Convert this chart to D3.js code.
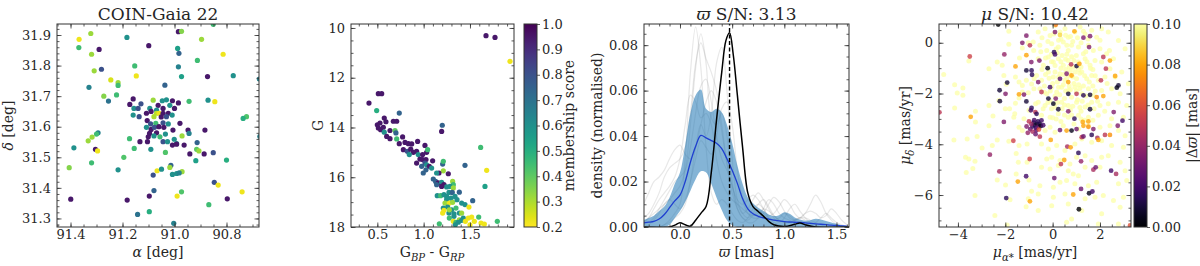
<!DOCTYPE html>
<html>
<head>
<meta charset="utf-8">
<script src="https://cdn.jsdelivr.net/npm/d3@7"></script>
<style>
body { margin: 0; background: #fff; }
svg text { font-family: "DejaVu Serif", serif; fill: #262626; }
</style>
</head>
<body>
<script>
// ---------- data ----------
// panel 1: ra [deg], dec [deg], membership score
const p1Stars = [
  [91.367,31.886,0.22],[91.322,31.905,0.32],[91.368,31.859,0.45],[91.290,31.853,0.95],[91.319,31.837,0.32],
  [91.309,31.783,0.32],[91.281,31.788,0.8],[91.183,31.892,0.6],[91.099,31.865,0.95],[90.985,31.911,0.95],
  [90.973,31.912,0.35],[90.988,31.856,0.55],[90.983,31.840,0.75],[90.896,31.886,0.32],[90.813,31.837,0.22],
  [90.851,31.935,0.45],[90.912,31.817,0.45],[91.153,31.799,0.45],[90.985,31.796,0.65],[91.147,31.766,0.22],
  [90.973,31.764,0.55],[90.873,31.764,0.95],[90.774,31.767,0.6],[90.674,31.756,0.65],[91.245,31.753,0.25],
  [91.217,31.744,0.32],[91.217,31.735,0.45],[91.329,31.729,0.65],[91.037,31.736,0.75],[91.272,31.700,0.35],
  [91.223,31.704,0.45],[91.254,31.684,0.7],[91.159,31.691,0.95],[91.172,31.673,0.95],[91.129,31.675,0.8],
  [91.082,31.687,0.32],[91.047,31.685,0.6],[91.031,31.688,0.6],[91.008,31.685,0.95],[90.985,31.678,0.95],
  [90.944,31.683,0.45],[90.871,31.687,0.6],[90.845,31.682,0.22],[91.063,31.670,0.95],[91.018,31.670,0.6],
  [91.095,31.660,0.6],[91.069,31.654,0.6],[91.044,31.660,0.95],[91.156,31.660,0.6],[91.140,31.660,0.8],
  [91.159,31.638,0.6],[91.136,31.633,0.8],[91.108,31.644,0.95],[91.090,31.650,0.95],[91.069,31.644,0.28],
  [91.079,31.633,0.3],[91.059,31.644,0.22],[91.044,31.644,0.95],[91.024,31.644,0.95],[91.031,31.633,0.8],
  [91.009,31.638,0.6],[91.051,31.632,0.95],[91.105,31.620,0.95],[91.092,31.609,0.8],[91.072,31.611,0.45],
  [91.044,31.613,0.8],[91.024,31.609,0.6],[90.979,31.611,0.95],[91.108,31.598,0.6],[91.090,31.591,0.95],
  [91.077,31.598,0.8],[91.060,31.600,0.95],[91.041,31.598,0.95],[91.006,31.589,0.95],[90.948,31.589,0.95],
  [90.883,31.589,0.95],[90.672,31.568,0.65],[91.294,31.580,0.65],[91.300,31.576,0.45],[91.096,31.578,0.95],
  [91.069,31.580,0.95],[91.101,31.567,0.95],[91.079,31.570,0.6],[91.056,31.567,0.45],[91.035,31.576,0.6],
  [90.944,31.578,0.65],[90.971,31.570,0.32],[91.173,31.561,0.45],[91.317,31.566,0.32],[91.332,31.554,0.32],
  [91.133,31.551,0.95],[91.104,31.551,0.95],[91.044,31.551,0.8],[91.027,31.551,0.6],[91.001,31.559,0.6],
  [90.992,31.545,0.6],[91.008,31.540,0.95],[90.992,31.543,0.95],[90.963,31.540,0.95],[90.913,31.548,0.75],
  [90.851,31.515,0.8],[91.387,31.531,0.6],[91.304,31.526,0.95],[91.296,31.521,0.22],[91.155,31.529,0.45],
  [91.091,31.526,0.6],[91.035,31.516,0.42],[90.915,31.526,0.4],[90.906,31.521,0.32],[90.941,31.511,0.95],
  [90.886,31.511,0.95],[90.918,31.489,0.55],[90.800,31.491,0.5],[91.195,31.500,0.42],[91.319,31.482,0.45],
  [91.405,31.466,0.35],[91.217,31.459,0.6],[91.067,31.456,0.22],[91.050,31.461,0.6],[91.014,31.474,0.75],
  [91.018,31.467,0.32],[90.971,31.453,0.32],[91.008,31.444,0.6],[90.992,31.447,0.6],[90.982,31.449,0.65],
  [91.082,31.442,0.8],[90.847,31.418,0.8],[90.832,31.409,0.22],[91.079,31.391,0.75],[90.973,31.387,0.42],
  [90.740,31.387,0.22],[91.097,31.373,0.95],[90.990,31.373,0.22],[91.399,31.363,0.95],[91.182,31.360,0.95],
  [90.797,31.364,0.95],[90.868,31.345,0.45],[91.142,31.313,0.7],[91.097,31.322,0.5],[91.003,31.284,0.65],
  [90.723,31.633,0.42],[90.736,31.627,0.5],[91.000,31.660,0.95]
];

// panel 2: BP-RP, G, membership score
const p2Stars = [
  [1.673,10.31,0.95],[1.770,10.38,0.95],[1.932,11.34,0.22],[0.410,13.02,0.95],[0.511,12.64,0.95],
  [0.547,12.64,0.95],[0.493,13.32,0.5],[0.737,13.42,0.75],[1.194,14.16,0.95],[1.201,13.91,0.75],
  [0.575,13.62,0.95],[0.593,13.77,0.95],[0.673,13.75,0.95],[0.709,13.75,0.95],[0.500,13.89,0.95],
  [0.529,13.82,0.95],[0.511,14.02,0.95],[0.536,14.09,0.95],[0.565,13.99,0.95],[0.575,14.19,0.6],
  [0.637,14.12,0.95],[0.691,14.12,0.4],[0.701,14.22,0.75],[0.601,14.36,0.95],[0.637,14.45,0.95],
  [0.709,14.46,0.45],[0.737,14.65,0.95],[0.799,14.60,0.95],[0.835,14.65,0.95],[0.871,14.66,0.95],
  [0.935,14.56,0.95],[1.014,14.72,0.95],[0.781,14.89,0.95],[0.824,14.96,0.8],[0.860,14.87,0.95],
  [0.889,15.00,0.95],[0.924,14.96,0.95],[0.845,15.09,0.6],[0.942,15.09,0.6],[0.989,15.09,0.95],
  [1.032,15.00,0.95],[1.043,14.89,0.45],[0.960,15.27,0.95],[0.989,15.29,0.95],[1.025,15.29,0.95],
  [1.097,15.34,0.95],[0.924,15.43,0.95],[1.014,15.43,0.8],[0.978,15.56,0.75],[1.032,15.50,0.6],
  [1.061,15.56,0.95],[1.086,15.63,0.6],[0.996,15.83,0.75],[1.025,15.70,0.75],[1.205,15.47,0.75],
  [1.212,15.36,0.45],[1.446,15.52,0.75],[1.212,15.74,0.32],[1.165,15.83,0.95],[1.266,15.86,0.95],
  [1.140,15.83,0.6],[1.104,16.07,0.75],[1.129,16.17,0.75],[1.158,16.23,0.95],[1.194,16.21,0.6],
  [1.219,16.30,0.95],[1.313,16.17,0.32],[1.320,16.30,0.45],[1.248,16.39,0.6],[1.284,16.37,0.6],
  [1.320,16.43,0.32],[1.147,16.74,0.6],[1.183,16.74,0.45],[1.219,16.70,0.6],[1.273,16.61,0.6],
  [1.309,16.61,0.75],[1.385,16.60,0.75],[1.248,16.90,0.6],[1.295,16.84,0.6],[1.338,16.77,0.6],
  [1.230,17.04,0.32],[1.277,17.04,0.22],[1.313,17.01,0.32],[1.410,17.04,0.6],[1.446,17.10,0.6],
  [1.529,16.94,0.75],[1.212,17.24,0.6],[1.259,17.20,0.6],[1.302,17.31,0.6],[1.349,17.24,0.45],
  [1.219,17.33,0.22],[1.205,17.44,0.22],[1.273,17.44,0.6],[1.327,17.47,0.6],[1.385,17.44,0.6],
  [1.410,17.44,0.32],[1.489,17.20,0.22],[1.277,17.64,0.45],[1.327,17.57,0.6],[1.385,17.71,0.32],
  [1.428,17.64,0.6],[1.482,17.64,0.22],[1.518,17.60,0.22],[1.594,17.60,0.45],[1.320,17.77,0.22],
  [1.349,17.81,0.45],[1.410,17.73,0.6],[1.450,17.77,0.22],[1.547,17.77,0.22],[1.619,17.84,0.22],
  [1.655,17.88,0.22],[1.169,17.87,0.45],[1.342,17.91,0.6],[1.500,17.91,0.22],[1.795,17.77,0.45],
  [1.615,14.80,0.45],[1.680,15.72,0.22],[1.662,16.37,0.55],[0.773,14.38,0.95],[1.374,17.81,0.6],
  [1.194,16.37,0.95],[1.140,16.30,0.75],[1.248,16.77,0.6],[1.360,16.90,0.6],[1.277,17.31,0.32]
];

// panel 3: parallax KDEs on a common grid [mas]
const p3Grid = [-0.35,-0.30,-0.25,-0.20,-0.15,-0.10,-0.05,0.00,0.05,0.10,0.15,0.20,0.25,0.30,0.35,0.40,0.45,0.50,0.55,0.60,
                0.65,0.70,0.75,0.80,0.85,0.90,0.95,1.00,1.05,1.10,1.15,1.20,1.25,1.30,1.35,1.40,1.45,1.50,1.55,1.60];
const p3Draws = [
  [0,0,0,0,0.001,0.003,0.006,0.010,0.030,0.068,0.088,0.070,0.035,0.015,0.010,0.012,0.010,0.006,0.003,0.002,0.004,0.008,0.010,0.008,0.004,0.002,0.001,0,0,0,0,0,0,0,0,0,0,0,0,0],
  [0.002,0.004,0.006,0.008,0.010,0.012,0.015,0.018,0.025,0.045,0.070,0.085,0.072,0.048,0.045,0.050,0.040,0.020,0.008,0.004,0.003,0.005,0.007,0.006,0.004,0.003,0.004,0.006,0.005,0.003,0.002,0.001,0,0,0,0,0,0,0,0],
  [0,0,0,0,0.001,0.002,0.004,0.006,0.010,0.020,0.035,0.045,0.040,0.050,0.072,0.079,0.060,0.030,0.012,0.006,0.004,0.006,0.010,0.012,0.009,0.005,0.003,0.002,0.002,0.003,0.004,0.004,0.003,0.002,0.001,0,0,0,0,0],
  [0.004,0.006,0.010,0.015,0.022,0.026,0.028,0.030,0.035,0.050,0.072,0.081,0.074,0.068,0.060,0.045,0.028,0.015,0.008,0.004,0.002,0.002,0.004,0.008,0.012,0.010,0.006,0.004,0.003,0.002,0.002,0.002,0.001,0,0,0,0,0,0,0],
  [0.010,0.015,0.020,0.022,0.025,0.030,0.034,0.036,0.032,0.030,0.035,0.045,0.055,0.060,0.055,0.042,0.028,0.018,0.012,0.010,0.012,0.014,0.012,0.008,0.005,0.006,0.009,0.012,0.010,0.006,0.004,0.006,0.010,0.014,0.011,0.006,0.003,0.001,0,0],
  [0.001,0.002,0.004,0.008,0.012,0.016,0.020,0.022,0.025,0.035,0.050,0.062,0.065,0.055,0.040,0.030,0.025,0.018,0.010,0.006,0.008,0.012,0.015,0.012,0.008,0.004,0.002,0.004,0.008,0.010,0.007,0.004,0.002,0.001,0,0,0,0,0,0],
  [0,0.001,0.003,0.006,0.010,0.012,0.010,0.008,0.012,0.020,0.030,0.038,0.035,0.032,0.040,0.052,0.055,0.045,0.025,0.012,0.006,0.004,0.004,0.006,0.010,0.013,0.011,0.007,0.004,0.003,0.004,0.006,0.007,0.006,0.004,0.005,0.008,0.006,0.003,0.001],
  [0.002,0.004,0.008,0.012,0.015,0.018,0.022,0.030,0.045,0.058,0.055,0.048,0.050,0.045,0.030,0.020,0.015,0.012,0.010,0.008,0.006,0.005,0.006,0.008,0.007,0.005,0.003,0.002,0.002,0.003,0.004,0.003,0.002,0.002,0.004,0.006,0.004,0.002,0.001,0]
];
const p3Median = [0.0018,0.0021,0.0025,0.0035,0.0055,0.0085,0.0115,0.0140,0.0200,0.0285,0.0355,0.0403,0.0392,0.0380,0.0368,0.0345,0.0300,0.0250,0.0192,0.0125,
                  0.0080,0.0058,0.0047,0.0040,0.0035,0.0030,0.0027,0.0024,0.0022,0.0021,0.0020,0.0018,0.0016,0.0014,0.0012,0.0010,0.0008,0.0007,0.0005,0.0004];
const p3Upper = [0.003,0.004,0.005,0.007,0.009,0.013,0.019,0.024,0.036,0.050,0.058,0.0605,0.052,0.0506,0.052,0.0505,0.045,0.037,0.027,0.019,
                 0.013,0.0105,0.0085,0.007,0.0055,0.0048,0.0052,0.0065,0.0058,0.0042,0.0033,0.0028,0.0030,0.0036,0.0033,0.0026,0.0020,0.0014,0.0008,0.0003];
const p3Lower = [0,0,0,0,0,0.001,0.004,0.007,0.011,0.016,0.021,0.0245,0.024,0.019,0.013,0.0075,0.003,0.0008,0,0,
                 0,0,0,0,0,0,0,0,0,0,0,0,0,0,0,0,0,0,0,0];
const p3ClusterX = [-0.35,-0.10,-0.05,0.00,0.05,0.10,0.15,0.20,0.25,0.30,0.35,0.40,0.44,0.475,0.51,0.55,0.60,0.65,0.70,0.75,0.80,0.85,0.90,1.00,1.10,1.15,1.20,1.30,1.62];
const p3ClusterY = [0,0,0.0008,0.0019,0.0010,0.0004,0.0030,0.0060,0.0090,0.024,0.047,0.068,0.082,0.0855,0.076,0.058,0.035,0.015,0.009,0.0068,0.0048,0.0025,0.0010,0.0002,0.0012,0.0018,0.0010,0,0];
const p3Plx = 0.475;

// panel 4: proper motions [mas/yr]; field stars with |dplx| >= 0.1 and the coloured ones
const p4Field = [
  [-1.85,0.45],[-1.85,-0.06],[-1.28,-0.21],[-1.03,0.0],[-0.82,0.03],[-2.34,-0.76],[-2.13,-0.89],[-2.69,-1.02],
  [-3.54,-0.72],[-4.60,-1.25],[-4.14,-1.65],[-4.03,-1.98],[-3.79,-1.78],[-3.79,-2.07],[-4.14,-2.57],[-3.26,-2.70],
  [-2.69,-2.47],[-2.52,-2.89],[-2.27,-2.27],[-2.06,-1.29],[-1.96,-1.63],[-1.57,-1.35],[-1.42,-1.55],[-1.28,-1.68],
  [-1.11,-1.48],[-0.89,-1.62],[-0.78,-1.42],[-1.28,-1.94],[-1.03,-1.97],[-0.79,-1.81],[-1.42,-2.18],[-1.57,-2.38],
  [-1.00,-2.66],[-0.72,-2.40],[-1.82,-2.60],[-1.64,-2.93],[-1.21,-2.99],[-3.26,-3.12],
  [-0.61,0.42],[-0.32,0.55],[-0.11,0.29],[0.10,0.68],[0.31,0.42],[0.52,0.55],[0.66,0.22],[0.94,0.42],
  [1.16,0.62],[1.37,0.35],[1.65,0.49],[1.86,0.22],[2.07,0.55],[2.35,0.42],[2.78,0.09],[3.06,-0.24],
  [-0.54,-0.10],[-0.25,-0.30],[-0.04,-0.04],[0.24,-0.17],[0.45,0.03],[0.66,-0.30],[0.80,-0.10],[1.09,-0.17],
  [1.30,-0.43],[1.51,-0.10],[1.72,-0.30],[2.00,-0.24],[2.28,-0.43],[2.57,-0.63],[-0.61,-0.63],[-0.39,-0.89],
  [-0.18,-0.56],[0.03,-0.76],[0.24,-0.63],[0.45,-0.89],[0.66,-0.70],[0.87,-0.96],[1.09,-0.76],[1.37,-0.63],
  [1.58,-0.89],[1.79,-0.70],[2.07,-0.76],[2.42,-1.02],[2.92,-1.15],[-0.68,-1.29],[-0.47,-1.48],[-0.18,-1.15],
  [0.03,-1.35],[0.31,-1.22],[0.52,-1.48],[0.73,-1.29],[1.01,-1.42],[1.23,-1.15],[1.44,-1.42],[1.65,-1.29],
  [1.93,-1.48],[2.21,-1.35],[2.64,-1.35],[3.20,-1.61],[-0.54,-1.81],[-0.25,-2.01],[-0.04,-1.75],[0.17,-1.94],
  [0.38,-1.75],[0.66,-1.88],[0.94,-1.75],[1.23,-2.01],[1.51,-1.81],[1.72,-2.07],[2.07,-1.88],[2.49,-1.81],
  [2.85,-2.01],[-0.61,-2.34],[-0.32,-2.47],[-0.11,-2.27],[0.10,-2.53],[0.38,-2.34],[0.66,-2.47],[1.01,-2.34],
  [1.37,-2.53],[1.65,-2.34],[2.00,-2.47],[2.35,-2.40],[2.78,-2.34],[3.13,-2.47],[-0.47,-2.86],[-0.11,-2.93],
  [0.24,-2.80],[0.66,-2.93],[1.09,-2.86],[1.51,-2.93],[1.93,-2.86],[2.49,-2.99],[2.99,-2.93],
  [0.20,-0.40],[0.40,-0.50],[0.60,-0.45],[0.80,-0.55],[1.00,-0.50],[0.10,-0.90],[0.35,-1.00],[0.55,-1.05],
  [0.75,-1.10],[0.95,-1.15],[1.15,-1.20],[0.00,-1.60],[0.20,-1.55],[0.45,-1.65],[0.70,-1.70],[0.90,-1.60],
  [1.10,-1.65],[1.30,-1.70],[0.10,-2.10],[0.30,-2.05],[0.50,-2.20],[0.80,-2.15],[1.05,-2.25],[1.25,-2.30],
  [0.40,-2.60],[0.75,-2.65],[1.20,-2.70],[-0.30,-1.25],[-0.35,-1.70],[-0.20,-2.35],[0.60,-0.10],[0.85,0.05],
  [0.25,0.10],[1.20,0.00],[1.40,-0.35],[-0.05,-0.45],[0.50,-2.85],[1.60,-1.00],[1.80,-1.30],[1.70,-1.70],
  [1.90,-2.30],[0.15,-3.00],[0.90,-3.20],[1.35,-3.05],
  [-0.45,0.20],[-0.20,0.05],[0.05,0.35],[0.35,0.15],[0.55,0.30],[0.75,0.25],[1.05,0.20],[1.30,0.45],[1.50,0.15],
  [-0.50,-0.35],[-0.30,-0.60],[-0.05,-0.75],[0.15,-0.25],[0.35,-0.75],[0.55,-0.65],[0.70,-0.95],[0.90,-0.70],
  [1.20,-0.95],[1.45,-0.75],[1.70,-1.05],[-0.45,-1.05],[-0.15,-1.40],[0.10,-1.15],[0.25,-1.35],[0.45,-1.25],
  [0.60,-1.40],[0.85,-1.35],[1.10,-1.05],[1.35,-1.30],[1.55,-1.55],[-0.35,-1.95],[-0.10,-1.90],[0.25,-1.75],
  [0.55,-1.90],[0.75,-1.85],[1.00,-1.90],[1.15,-1.80],[1.40,-2.10],[1.80,-1.90],[-0.40,-2.60],[-0.05,-2.60],
  [0.20,-2.35],[0.50,-2.45],[0.85,-2.50],[1.15,-2.55],[1.50,-2.45],[1.75,-2.60],[0.00,-2.95],[0.35,-3.10],
  [0.80,-2.85],[1.20,-3.00],[1.70,-3.05],[2.20,-2.70],[2.30,-1.60],[2.40,-0.30],[2.00,0.10],[-0.80,-0.30],
  [-1.40,-0.60],[-1.60,-2.80],[-2.00,-2.60],
  [-4.17,-3.83],[-3.61,-3.79],[-3.19,-3.69],[-2.98,-4.15],[-2.55,-4.05],[-2.34,-3.83],[-1.85,-3.88],[-1.42,-4.05],
  [-1.08,-3.99],[-3.68,-4.51],[-3.54,-4.58],[-3.28,-4.67],[-3.65,-5.11],[-3.37,-4.95],[-2.34,-5.41],[-1.99,-5.60],
  [-1.54,-4.36],[-1.45,-4.71],[-1.08,-4.71],[-1.54,-5.17],[-1.00,-5.41],[-0.89,-5.85],[-3.28,-6.02],[-1.80,-6.19],
  [-1.03,-6.15],[-1.12,-6.46],[-2.44,-6.81],[-1.92,-7.18],[-2.69,-3.27],[-1.42,-3.33],[-1.28,-3.46],
  [-0.32,-3.46],[-0.11,-3.33],[0.10,-3.53],[0.45,-3.27],[1.09,-3.40],[1.51,-3.27],[2.00,-3.33],[2.42,-3.27],
  [2.78,-3.46],[3.06,-3.66],[-0.47,-3.99],[-0.18,-4.19],[0.17,-4.05],[0.52,-4.25],[0.94,-3.99],[1.23,-3.79],
  [1.65,-3.92],[2.07,-3.86],[2.49,-4.05],[2.99,-4.12],[-0.25,-4.58],[-0.04,-4.51],[0.31,-4.64],[0.73,-4.78],
  [1.01,-4.51],[1.37,-4.45],[1.65,-4.64],[2.07,-4.51],[2.35,-4.45],[2.85,-4.71],[-0.47,-4.91],[-0.11,-4.97],
  [0.24,-4.84],[0.66,-5.04],[0.87,-5.17],[1.09,-5.24],[1.37,-4.91],[2.00,-4.91],[3.06,-5.04],[3.13,-5.43],
  [-0.54,-5.63],[0.03,-5.69],[0.31,-5.50],[0.59,-5.43],[0.94,-5.56],[1.51,-5.63],[1.86,-5.50],[2.78,-5.56],
  [-0.61,-5.96],[0.03,-6.09],[0.52,-5.96],[1.37,-6.15],[1.79,-6.09],[2.14,-6.02],[2.57,-6.22],[2.99,-6.09],
  [-0.61,-6.61],[-0.04,-6.42],[0.66,-6.35],[1.23,-6.61],[2.07,-6.74],[2.85,-6.48],[0.59,-7.07],[0.80,-6.94],
  [1.93,-7.14],[2.78,-7.14]
];
const p4Members = [
  [-2.30,0.72,0.0],[-1.11,0.28,0.035],[-1.28,0.0,0.035],[-0.96,-0.10,0.05],[-1.11,-0.49,0.08],[-2.04,-0.46,0.04],
  [-3.50,-0.54,0.055],[-1.57,-0.93,0.08],[-0.90,-0.76,0.035],[-1.11,-1.09,0.01],[-0.89,-1.09,0.015],[-0.87,-1.26,0.015],
  [-1.92,-1.57,0.01],[-2.24,-1.87,0.01],[-1.99,-2.01,0.035],[-2.23,-2.30,0.01],[-1.42,-2.03,0.08],[-1.21,-2.04,0.035],
  [-1.11,-2.31,0.01],[-0.89,-2.57,0.015],[-0.92,-2.66,0.02],[-0.73,-2.73,0.05],[-3.46,-2.92,0.08],[-2.06,-3.12,0.035],
  [-4.78,-2.74,0.05],
  [0.13,0.71,0.07],[0.10,0.42,0.035],[0.31,0.31,0.09],[0.92,0.45,0.08],[1.30,0.20,0.035],[1.58,0.26,0.035],
  [1.54,-0.17,0.035],[-0.56,-0.70,0.035],[0.06,-0.37,0.015],[0.10,-0.46,0.02],[0.78,-0.85,0.05],[1.01,-0.92,0.01],
  [1.13,-0.83,0.08],[-0.21,-1.00,0.005],[2.14,-0.56,0.05],[2.42,-0.70,0.08],[2.25,-1.02,0.05],[2.64,-1.31,0.08],
  [2.04,-1.48,0.05],[2.78,-1.68,0.01],[2.71,-1.77,0.005],[0.59,-1.22,0.035],[0.80,-1.29,0.08],[0.66,-1.55,0.08],
  [0.31,-1.42,0.025],[-0.11,-1.75,0.02],[-0.61,-1.55,0.035],[-0.47,-1.94,0.05],[0.66,-2.01,0.01],[1.01,-2.01,0.05],
  [1.30,-2.07,0.015],[1.58,-2.05,0.01],[1.86,-2.14,0.075],[2.14,-2.10,0.08],[-0.18,-2.20,0.01],[0.13,-2.20,0.035],
  [0.03,-2.40,0.005],[0.24,-2.62,0.01],[0.92,-2.99,0.015],[0.66,-2.70,0.035],[1.58,-2.62,0.01],[1.27,-3.12,0.08],
  [1.51,-3.10,0.08],[2.95,-3.07,0.02],[2.58,-2.73,0.035],[-0.68,-2.80,0.015],[-0.47,-3.06,0.02],
  [-1.66,-3.86,0.055],[-2.65,-4.41,0.04],[-0.97,-4.58,0.055],[-2.25,-5.07,0.045],[-1.12,-5.26,0.02],[-1.47,-5.47,0.08],
  [-1.96,-6.12,0.015],[-0.96,-6.25,0.08],
  [-0.54,-3.70,0.05],[0.31,-3.44,0.03],[0.59,-3.46,0.08],[0.80,-3.46,0.005],[1.01,-3.40,0.03],[1.30,-3.27,0.08],
  [1.51,-3.31,0.075],[1.72,-3.40,0.035],[2.21,-3.63,0.05],[2.42,-3.63,0.075],[2.75,-3.27,0.035],[1.23,-3.72,0.05],
  [-0.08,-3.83,0.08],[1.30,-3.69,0.03],[1.65,-3.63,0.015],[1.89,-3.75,0.045],[1.93,-3.83,0.08],[0.62,-4.09,0.045],
  [0.76,-4.12,0.08],[1.09,-4.34,0.015],[0.49,-4.62,0.08],[0.35,-4.78,0.05],[1.20,-4.67,0.04],[1.72,-5.00,0.045],
  [1.82,-4.91,0.03],[2.47,-5.04,0.02],[2.68,-5.17,0.045],[0.07,-5.33,0.03],[1.20,-5.76,0.03],[0.87,-5.98,0.08],
  [1.54,-5.93,0.005],[1.68,-5.86,0.02],[1.11,-6.56,0.0],[3.27,-7.20,0.06],
  [-0.75,-3.25,0.01],[-0.65,-3.20,0.005],[-0.70,-3.35,0.02],[-0.85,-3.30,0.015],[-0.60,-3.30,0.03],[-0.80,-3.15,0.01],
  [-0.90,-3.20,0.04],[-0.55,-3.20,0.01],[-0.95,-3.40,0.03],[-0.70,-3.45,0.025],[-0.50,-3.28,0.005],[-1.00,-3.10,0.05],
  [-0.78,-3.05,0.02],[-0.62,-3.10,0.015],[-0.85,-3.50,0.045],[-1.10,-3.30,0.035],[-0.40,-3.25,0.02],[-0.58,-3.42,0.06],
  [-1.05,-3.55,0.04],[-0.72,-3.60,0.03]
];
const p4Cap = 0.1;

// ---------- drawing ----------
const svg = d3.select("body").append("svg").attr("width", 1200).attr("height", 266);
const FS = 13;     // tick labels
const LS = 14;     // axis labels
const TS = 17;     // titles

function makePanel(id, l, r, t, b, xDom, yDom) {
  const x = d3.scaleLinear().domain(xDom).range([l, r]);
  const y = d3.scaleLinear().domain(yDom).range([b, t]);
  svg.append("clipPath").attr("id", id).append("rect")
    .attr("x", l).attr("y", t).attr("width", r - l).attr("height", b - t);
  const g = svg.append("g");
  const plot = g.append("g").attr("clip-path", `url(#${id})`);
  return { x, y, g, plot, l, r, t, b };
}

function inside(vals, dom) {
  const lo = Math.min(...dom), hi = Math.max(...dom);
  return vals.filter(v => v >= lo - 1e-9 && v <= hi + 1e-9);
}

function axes(p, xMaj, xMin, xFmt, yMaj, yMin, yFmt) {
  const put = (axis, tr, vals, size, fmt) => {
    const a = p.g.append("g").attr("transform", tr)
      .call(axis.tickValues(vals).tickSize(size).tickPadding(3).tickFormat(fmt || (() => "")));
    a.select(".domain").remove();
    a.selectAll("line").attr("stroke", "#333").attr("stroke-width", 0.8);
    a.selectAll("text").attr("font-size", FS).attr("font-family", "DejaVu Serif").attr("fill", "#262626");
    return a;
  };
  const xd = p.x.domain(), yd = p.y.domain();
  const xm = inside(xMaj, xd), xn = inside(xMin, xd), ym = inside(yMaj, yd), yn = inside(yMin, yd);
  put(d3.axisBottom(p.x), `translate(0,${p.b})`, xm, -4.5, xFmt);
  put(d3.axisBottom(p.x), `translate(0,${p.b})`, xn, -2.5);
  put(d3.axisTop(p.x), `translate(0,${p.t})`, xm, -4.5);
  put(d3.axisTop(p.x), `translate(0,${p.t})`, xn, -2.5);
  const yl = put(d3.axisLeft(p.y), `translate(${p.l},0)`, ym, -4.5, yFmt);
  yl.call(a => a.selectAll("text").attr("x", -6));
  put(d3.axisLeft(p.y), `translate(${p.l},0)`, yn, -2.5);
  put(d3.axisRight(p.y), `translate(${p.r},0)`, ym, -4.5);
  put(d3.axisRight(p.y), `translate(${p.r},0)`, yn, -2.5);
  p.g.append("rect").attr("x", p.l).attr("y", p.t).attr("width", p.r - p.l).attr("height", p.b - p.t)
    .attr("fill", "none").attr("stroke", "#333").attr("stroke-width", 1);
}

// parts: [text, flags] flags: "i" italic, "s" subscript
function rich(x, y, parts, opts = {}) {
  const fs = opts.size || LS;
  const t = svg.append("text").attr("x", x).attr("y", y).attr("font-size", fs)
    .attr("text-anchor", "middle");
  if (opts.rotate) t.attr("transform", `rotate(-90,${x},${y})`);
  let shifted = 0;
  parts.forEach(([s, f]) => {
    const ts = t.append("tspan").text(s);
    if (f.includes("i")) ts.attr("font-style", "italic");
    const want = f.includes("s") ? fs * 0.28 : 0;
    if (want !== shifted) { ts.attr("dy", want - shifted); shifted = want; }
    if (f.includes("s")) ts.attr("font-size", fs * 0.72);
  });
  return t;
}

function colorbar(id, l, r, t, b, scale, ticks, fmt, interp) {
  const grad = svg.append("defs").append("linearGradient").attr("id", id)
    .attr("x1", 0).attr("y1", 1).attr("x2", 0).attr("y2", 0);
  d3.range(0, 1.0001, 0.05).forEach(s => grad.append("stop").attr("offset", s).attr("stop-color", interp(s)));
  svg.append("rect").attr("x", l).attr("y", t).attr("width", r - l).attr("height", b - t).attr("fill", `url(#${id})`);
  const y = d3.scaleLinear().domain(scale).range([b, t]);
  const a = svg.append("g").attr("transform", `translate(${r},0)`)
    .call(d3.axisRight(y).tickValues(ticks).tickSize(3).tickPadding(2).tickFormat(fmt));
  a.select(".domain").remove();
  a.selectAll("line").attr("stroke", "#333").attr("stroke-width", 0.8);
  a.selectAll("text").attr("font-size", FS).attr("font-family", "DejaVu Serif").attr("fill", "#262626");
  svg.append("rect").attr("x", l).attr("y", t).attr("width", r - l).attr("height", b - t)
    .attr("fill", "none").attr("stroke", "#333").attr("stroke-width", 1);
}

const viridisR = t => d3.interpolateViridis(1 - t);
const memb = d3.scaleSequential(viridisR).domain([0.2, 1.0]);
const minus = v => (v < 0 ? "\u2212" : "") + Math.abs(v);
const XL = 257;   // x-label baseline
const TT = 20;    // title baseline

// ---- panel 1 ----
const p1 = makePanel("c1", 57, 259, 24, 227, [91.452, 90.675], [31.272, 31.936]);
p1.plot.selectAll("circle").data(p1Stars).join("circle")
  .attr("cx", d => p1.x(d[0])).attr("cy", d => p1.y(d[1])).attr("r", 2.6)
  .attr("fill", d => memb(d[2]));
axes(p1, [91.4, 91.2, 91.0, 90.8], d3.range(90.65, 91.5, 0.05), d => d.toFixed(1),
  d3.range(31.3, 31.95, 0.1), d3.range(31.26, 31.95, 0.02), d => d.toFixed(1));
rich(158, TT, [["COIN-Gaia 22", ""]], { size: TS });
rich(158, XL, [["\u03b1", "i"], [" [deg]", ""]]);
rich(13, 125.5, [["\u03b4", "i"], [" [deg]", ""]], { rotate: true });

// ---- panel 2 ----
const p2 = makePanel("c2", 351, 514, 24, 227, [0.216, 1.975], [18, 9.84]);
p2.plot.selectAll("circle").data(p2Stars).join("circle")
  .attr("cx", d => p2.x(d[0])).attr("cy", d => p2.y(d[1])).attr("r", 2.6)
  .attr("fill", d => memb(d[2]));
axes(p2, [0.5, 1.0, 1.5], d3.range(0.2, 2.0, 0.1), d => d.toFixed(1),
  [10, 12, 14, 16, 18], d3.range(9.5, 18.01, 0.5), d => d);
rich(432, XL, [["G", ""], ["BP", "is"], [" - G", ""], ["RP", "is"]]);
rich(323, 125.5, [["G", ""]], { rotate: true });
colorbar("g2", 524, 537, 24, 227, [0.2, 1.0], d3.range(0.2, 1.01, 0.1), d => d.toFixed(1), viridisR);
rich(574, 125.5, [["membership score", ""]], { rotate: true });

// ---- panel 3 ----
const p3 = makePanel("c3", 644, 849, 24, 227, [-0.345, 1.62], [0, 0.0893]);
const kde = d3.line().x((d, i) => p3.x(p3Grid[i])).y(d => p3.y(d)).curve(d3.curveCatmullRom);
p3.plot.selectAll(".draw").data(p3Draws).join("path").attr("class", "draw")
  .attr("d", kde).attr("fill", "none").attr("stroke", "#8c8c8c").attr("stroke-opacity", 0.2).attr("stroke-width", 1.2);
const band = d3.area().x((d, i) => p3.x(p3Grid[i])).y0((d, i) => p3.y(p3Lower[i])).y1(d => p3.y(d)).curve(d3.curveCatmullRom);
p3.plot.append("path").datum(p3Upper).attr("d", band).attr("fill", "#1f77b4").attr("fill-opacity", 0.55);
p3.plot.append("path").datum(p3Median).attr("d", kde).attr("fill", "none").attr("stroke", "#1f3fd0").attr("stroke-width", 1.3);
const clusterLine = d3.line().x((d, i) => p3.x(p3ClusterX[i])).y(d => p3.y(d)).curve(d3.curveCatmullRom);
p3.plot.append("path").datum(p3ClusterY).attr("d", clusterLine).attr("fill", "none").attr("stroke", "#000").attr("stroke-width", 1.5);
p3.plot.append("line").attr("x1", p3.x(p3Plx)).attr("x2", p3.x(p3Plx)).attr("y1", p3.y(0)).attr("y2", p3.t)
  .attr("stroke", "#000").attr("stroke-width", 1.4).attr("stroke-dasharray", "4,2.5");
axes(p3, [0, 0.5, 1.0, 1.5], d3.range(-0.3, 1.65, 0.1), d => d.toFixed(1),
  d3.range(0, 0.09, 0.02), d3.range(0, 0.09, 0.005), d => d.toFixed(2));
rich(746.5, TT, [["\u03d6", "i"], [" S/N: 3.13", ""]], { size: TS });
rich(746.5, XL, [["\u03d6", "i"], [" [mas]", ""]]);
rich(602, 125.5, [["density (normalised)", ""]], { rotate: true });

// ---- panel 4 ----
const p4 = makePanel("c4", 939, 1131, 24, 227, [-4.8, 3.31], [-7.26, 0.74]);
const inf = d3.scaleSequential(d3.interpolateInferno).domain([0, p4Cap]).clamp(true);
p4.plot.selectAll(".field").data(p4Field).join("circle").attr("class", "field")
  .attr("cx", d => p4.x(d[0])).attr("cy", d => p4.y(d[1])).attr("r", 2.5)
  .attr("fill", inf(p4Cap)).attr("fill-opacity", 0.72);
p4.plot.selectAll(".mem").data(p4Members).join("circle").attr("class", "mem")
  .attr("cx", d => p4.x(d[0])).attr("cy", d => p4.y(d[1])).attr("r", 2.4)
  .attr("fill", d => inf(d[2])).attr("fill-opacity", 0.8);
axes(p4, [-4, -2, 0, 2], d3.range(-5, 3.5, 0.5), minus,
  [0, -2, -4, -6], d3.range(-7.5, 1, 0.5), minus);
rich(1035, TT, [["\u03bc", "i"], [" S/N: 10.42", ""]], { size: TS });
rich(1035, XL, [["\u03bc", "i"], ["\u03b1", "is"], ["*", "s"], [" [mas/yr]", ""]]);
rich(910, 125.5, [["\u03bc", "i"], ["\u03b4", "is"], [" [mas/yr]", ""]], { rotate: true });
colorbar("g4", 1134, 1147, 24, 227, [0, 0.1], d3.range(0, 0.101, 0.02), d => d.toFixed(2), d3.interpolateInferno);
rich(1197, 125.5, [["|\u0394", ""], ["\u03d6", "i"], ["| [mas]", ""]], { rotate: true });
</script>
</body>
</html>
